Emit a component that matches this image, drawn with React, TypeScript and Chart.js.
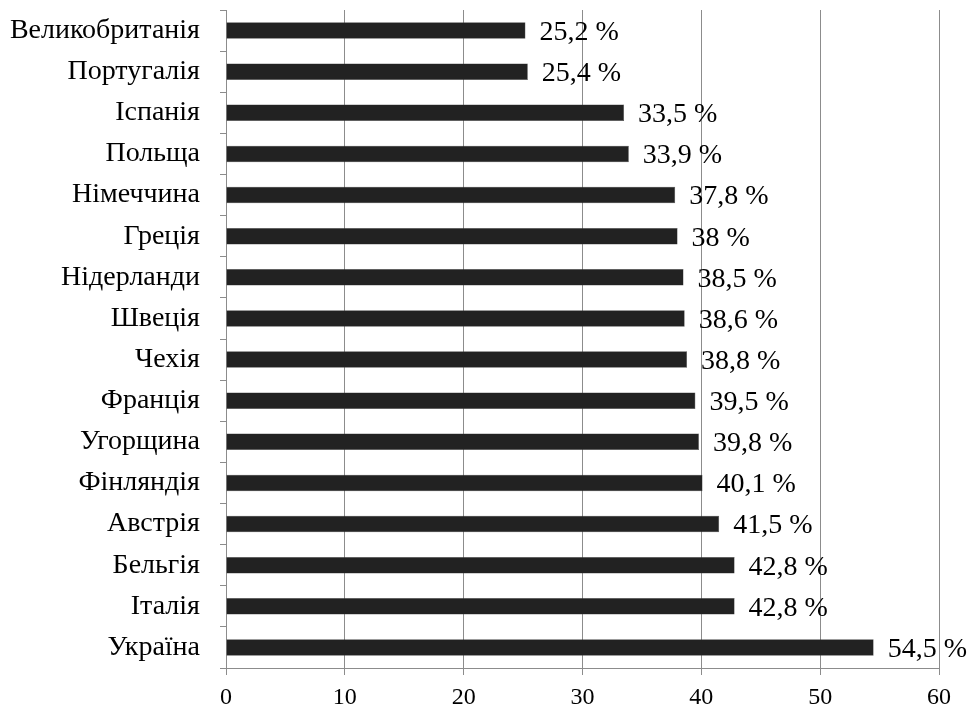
import React, { useEffect, useRef } from "react";
import { Chart, registerables } from "chart.js";

Chart.register(...registerables);

const categories = [
  "Великобританія",
  "Португалія",
  "Іспанія",
  "Польща",
  "Німеччина",
  "Греція",
  "Нідерланди",
  "Швеція",
  "Чехія",
  "Франція",
  "Угорщина",
  "Фінляндія",
  "Австрія",
  "Бельгія",
  "Італія",
  "Україна",
];

const values = [25.2, 25.4, 33.5, 33.9, 37.8, 38, 38.5, 38.6, 38.8, 39.5, 39.8, 40.1, 41.5, 42.8, 42.8, 54.5];

const xTicks = [0, 10, 20, 30, 40, 50, 60];

const FONT = "'Liberation Serif', 'Times New Roman', serif";

const labelPlugin = {
  id: "barLabels",
  afterDatasetsDraw(chart: any) {
    const ctx = chart.ctx;
    const meta = chart.getDatasetMeta(0);
    ctx.save();
    ctx.font = `28px ${FONT}`;
    ctx.fillStyle = "#000";
    ctx.textAlign = "left";
    ctx.textBaseline = "middle";
    meta.data.forEach((bar: any, i: number) => {
      const v = values[i];
      const txt = String(v).replace(".", ",") + " %";
      ctx.fillText(txt, bar.x + 14, bar.y + 2);
    });
    ctx.restore();
  },
};

export default function App() {
  const ref = useRef<HTMLCanvasElement>(null);
  useEffect(() => {
    if (!ref.current) return;
    const chart = new Chart(ref.current, {
      type: "bar",
      data: {
        labels: categories,
        datasets: [
          {
            data: values,
            backgroundColor: "#222222",
            borderColor: "#444444",
            borderWidth: 0.5,
            categoryPercentage: 1,
            barPercentage: 0.4,
          },
        ],
      },
      options: {
        indexAxis: "y",
        animation: false,
        responsive: false,
        devicePixelRatio: 1,
        layout: { padding: { top: 10, right: 29, left: 0, bottom: 0 } },
        plugins: {
          legend: { display: false },
          tooltip: { enabled: false },
        },
        scales: {
          x: {
            min: 0,
            max: 60,
            afterBuildTicks: (scale: any) => {
              scale.ticks = xTicks.map((v) => ({ value: v }));
            },
            afterFit: (scale: any) => {
              scale.height = 43;
              scale.paddingLeft = 0;
              scale.paddingRight = 0;
            },
            grid: {
              color: "#8c8c8c",
              lineWidth: 1,
              tickLength: 7,
              drawTicks: true,
            },
            border: { color: "#8c8c8c", width: 1 },
            ticks: {
              color: "#000",
              font: { family: FONT, size: 24 },
              padding: 8,
            },
          },
          y: {
            afterFit: (scale: any) => {
              scale.width = 226;
              scale.paddingTop = 0;
              scale.paddingBottom = 0;
            },
            grid: {
              drawOnChartArea: false,
              color: "#8c8c8c",
              tickLength: 6,
              offset: true,
            },
            border: { color: "#8c8c8c", width: 1 },
            ticks: {
              color: "#000",
              font: { family: FONT, size: 28 },
              padding: 20,
              autoSkip: false,
            },
          },
        },
      },
      plugins: [labelPlugin],
    });
    return () => chart.destroy();
  }, []);
  return (
    <div style={{ position: "fixed", left: 0, top: 0, width: 968, height: 711, background: "#fff" }}>
      <canvas ref={ref} width={968} height={711} style={{ width: 968, height: 711 }} />
    </div>
  );
}
